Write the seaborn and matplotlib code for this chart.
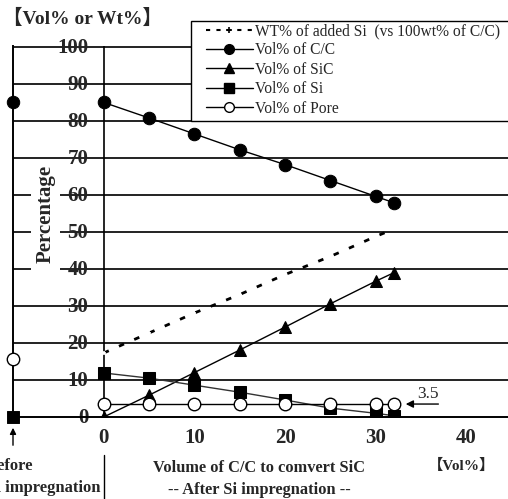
import numpy as np
import pandas as pd
import matplotlib
matplotlib.use("Agg")
import matplotlib.pyplot as plt
from matplotlib.lines import Line2D
from matplotlib.patches import Rectangle
import seaborn as sns

# ---------------- data ----------------
vol_cc_converted = [0, 5, 10, 15, 20, 25, 30, 32]
wt_added_si = [17.3, 22.7, 28.1, 33.1, 38.5, 43.4, 48.8, 50.8]
vol_cc = [85.0, 80.8, 76.5, 72.2, 68.2, 63.9, 59.6, 57.9]
vol_sic = [0.0, 5.9, 12.0, 18.1, 24.3, 30.6, 36.7, 39.0]
vol_si = [11.9, 10.5, 8.6, 6.7, 4.6, 2.4, 1.0, 0.35]
vol_pore = [3.5, 3.5, 3.5, 3.5, 3.5, 3.5, 3.5, 3.5]

before_x = -10
before_cc = 85.0
before_pore = 15.7
before_si = 0.0

y_ticks = [0, 10, 20, 30, 40, 50, 60, 70, 80, 90, 100]
x_ticks = [0, 10, 20, 30, 40]

series_names = ["WT% of added Si  (vs 100wt% of C/C)", "Vol% of C/C",
                "Vol% of SiC", "Vol% of Si", "Vol% of Pore"]

# ---------------- figure ----------------
sns.set_style("white")
plt.rcParams['font.family'] = ['Liberation Serif', 'Noto Sans CJK JP', 'DejaVu Sans']

W, H = 508, 499
fig = plt.figure(figsize=(W / 100, H / 100), dpi=100)
ax_left, ax_right, ax_top, ax_bot = 13, 508, 46, 417
ax = fig.add_axes([ax_left / W, 1 - ax_bot / H, (ax_right - ax_left) / W, (ax_bot - ax_top) / H])

def fx(px):
    return px / W

def fy(py):
    return 1 - py / H

df = pd.DataFrame({"x": vol_cc_converted, "wt": wt_added_si, "cc": vol_cc,
                   "sic": vol_sic, "si": vol_si, "pore": vol_pore})

sns.lineplot(data=df, x="x", y="wt", ax=ax, color="black", lw=2.0,
             dashes=False, linestyle=(0, (2, 4)), marker="+", markersize=3,
             markeredgewidth=1.2, zorder=3)
sns.lineplot(data=df, x="x", y="cc", ax=ax, color="black", lw=1.0,
             marker="o", markersize=9, markeredgecolor="black", zorder=4)
sns.lineplot(data=df, x="x", y="sic", ax=ax, color="black", lw=1.0,
             marker="^", markersize=9, markeredgecolor="black", zorder=4)
sns.lineplot(data=df, x="x", y="si", ax=ax, color="#333333", lw=1.0,
             marker="s", markersize=8, markerfacecolor="black",
             markeredgecolor="black", zorder=4)
sns.lineplot(data=df, x="x", y="pore", ax=ax, color="black", lw=1.0,
             marker="o", markersize=9, markerfacecolor="white",
             markeredgecolor="black", markeredgewidth=1.0, zorder=5)

# before-impregnation points
sns.scatterplot(x=[before_x], y=[before_cc], ax=ax, marker="o", s=80,
                color="black", edgecolor="black", zorder=6, clip_on=False)
sns.scatterplot(x=[before_x], y=[before_pore], ax=ax, marker="o", s=80,
                facecolor="white", edgecolor="black", linewidth=1.0,
                zorder=6, clip_on=False)
sns.scatterplot(x=[before_x], y=[before_si], ax=ax, marker="s", s=70,
                color="black", edgecolor="black", zorder=6, clip_on=False)

x_per_px = 10 / 90.7
xmin = -10
xmax = xmin + (ax_right - ax_left) * x_per_px
ax.set_xlim(xmin, xmax)
ax.set_ylim(0, 100.25)

# grid
ax.set_yticks(y_ticks[1:])
ax.yaxis.grid(True, color="#222222", lw=1.4)
ax.xaxis.grid(False)
ax.set_axisbelow(True)
ax.tick_params(axis="y", length=0, labelleft=False)
ax.set_xticks(x_ticks)
ax.set_xticklabels([str(v) for v in x_ticks], fontsize=15, fontweight="bold")
ax.tick_params(axis="x", direction="in", length=5, width=1, color="black", pad=8)
ax.set_xlabel("")
ax.set_ylabel("")

for s in ["top", "right"]:
    ax.spines[s].set_visible(False)
for s in ["left", "bottom"]:
    ax.spines[s].set_color("black")
    ax.spines[s].set_linewidth(1.4)

# y axis at x=0
ax.axvline(0, color="black", lw=1.2, zorder=0.6)
ax.axvline(0, ymin=-(499 - 417) / (ax_bot - ax_top), ymax=-(455 - 417) / (ax_bot - ax_top),
           color="black", lw=1.0, clip_on=False)

# y tick labels (drawn under the gridlines)
for v in y_ticks:
    ax.text(-1.7, v - 0.3, str(v), ha="right", va="center", fontsize=15,
            fontweight="bold", zorder=0.2)

# texts
fig.text(fx(3), fy(18), "【Vol% or Wt%】", fontsize=14, fontweight="bold",
         ha="left", va="center", family=['Liberation Serif', 'Noto Sans CJK JP'])
ax.add_patch(Rectangle((fx(31), fy(273)), fx(29), (273 - 161) / H,
                       transform=fig.transFigure, facecolor="white",
                       edgecolor="none", zorder=1))
ax.text(0.0667, 1 - (214 - ax_top) / (ax_bot - ax_top), "Percentage",
        transform=ax.transAxes, rotation=90, fontsize=15, fontweight="bold",
        ha="center", va="center", zorder=2)
fig.add_artist(matplotlib.patches.FancyArrowPatch(
    (fx(13), fy(448)), (fx(13), fy(425)), transform=fig.transFigure,
    arrowstyle="-|>", mutation_scale=9, color="black", lw=1.0))
fig.text(fx(-13), fy(477), "Before\nSi impregnation", fontsize=12, fontweight="bold",
         ha="left", va="center", linespacing=1.5)
fig.text(fx(259), fy(479), "Volume of C/C to comvert SiC\n-- After Si impregnation --",
         fontsize=11.8, fontweight="bold", ha="center", va="center", linespacing=1.55)
fig.text(fx(461), fy(466), "【Vol%】", fontsize=11, fontweight="bold",
         ha="center", va="center", family=['Liberation Serif', 'Noto Sans CJK JP'])

# 3.5 annotation
ax.annotate("", xy=(33.3, 3.5), xytext=(36.9, 3.5),
            arrowprops=dict(arrowstyle="-|>", color="black", lw=1.0,
                            mutation_scale=11, shrinkA=0, shrinkB=0), zorder=7)
ax.text(35.7, 4.0, "3.5", fontsize=12.5, ha="center", va="bottom")

# legend (frame drawn separately so it can run off the right edge)
handles = [
    Line2D([], [], color="black", lw=1.5, linestyle=(0, (2, 3)), marker="+",
           markersize=4, markeredgewidth=1.2),
    Line2D([], [], color="black", lw=1.0, marker="o", markersize=7),
    Line2D([], [], color="black", lw=1.0, marker="^", markersize=7),
    Line2D([], [], color="black", lw=1.0, marker="s", markersize=7),
    Line2D([], [], color="black", lw=1.0, marker="o", markersize=7,
           markerfacecolor="white"),
]
frame = Rectangle((fx(191), fy(121)), fx(330), (121 - 21) / H, transform=fig.transFigure,
                  facecolor="white", edgecolor="black", lw=1.0, zorder=9)
fig.add_artist(frame)
leg = fig.legend(handles, series_names, loc="upper left",
                 bbox_to_anchor=(fx(206), fy(23)), borderaxespad=0,
                 frameon=False,
                 prop={"family": "Liberation Serif", "size": 11.2},
                 handlelength=3.0, handletextpad=0.15, labelspacing=0.22,
                 borderpad=0.0)
leg.set_zorder(10)

fig.savefig("out.png", dpi=100)
